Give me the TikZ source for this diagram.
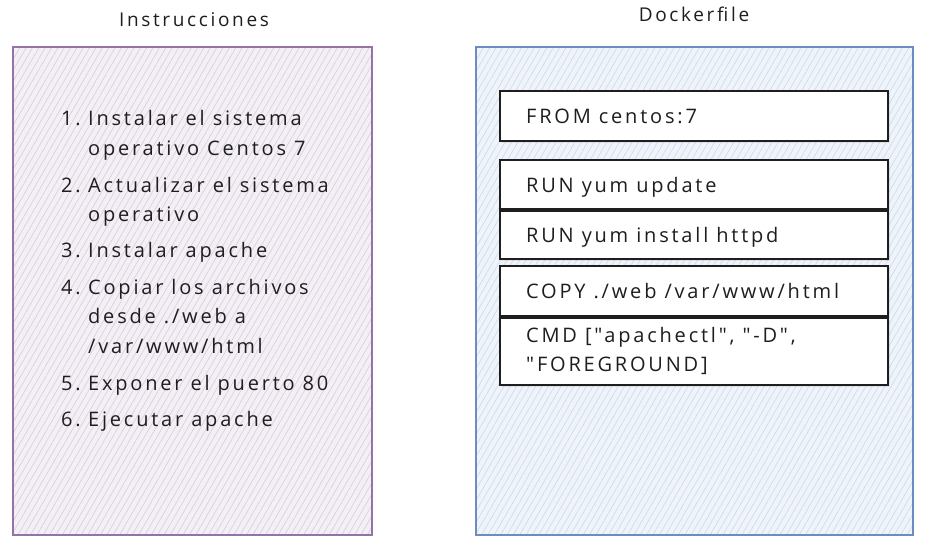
\documentclass[tikz,border=0pt]{standalone}
\usepackage{fontspec}
\newfontfamily\handfont[LetterSpace=14]{Open Sans}
\usetikzlibrary{patterns.meta,shadows}
\definecolor{purpleline}{HTML}{9673A6}
\definecolor{purplefill}{HTML}{F3EFF5}
\definecolor{purplehatch}{HTML}{D6CCDE}
\definecolor{blueline}{HTML}{6C8EBF}
\definecolor{bluefill}{HTML}{EFF3FA}
\definecolor{bluehatch}{HTML}{CCD9EB}
\definecolor{ink}{HTML}{1E1E1E}
\begin{document}
\begin{tikzpicture}[x=1pt,y=-1pt,
  txt/.style={font=\handfont\fontsize{20}{23}\selectfont, text=ink, inner sep=0pt, anchor=base west},
  num/.style={font=\handfont\fontsize{20}{23}\selectfont, text=ink, inner sep=0pt, anchor=base east},
  ttl/.style={font=\handfont\fontsize{19}{22}\selectfont, text=ink, inner sep=0pt, anchor=base},
  frame/.style={rectangle, inner sep=0pt, line width=1.3pt},
  instrframe/.style={frame, draw=purpleline, preaction={fill=purplefill},
    pattern={Lines[angle=60,distance=5.5pt,line width=0.6pt]}, pattern color=purplehatch},
  dockframe/.style={frame, draw=blueline, preaction={fill=bluefill},
    pattern={Lines[angle=60,distance=5.5pt,line width=0.6pt]}, pattern color=bluehatch},
  cmdbox/.style={rectangle, draw=ink, fill=white, line width=1.1pt, inner sep=0pt,
    minimum width=388pt, drop shadow={shadow xshift=2pt, shadow yshift=-2pt, opacity=0.15}},
]
\useasboundingbox (0,0) rectangle (929,555);

% titles
\node[ttl] (tinstr) at (194,26) {Instrucciones};
\node[ttl] (tdock) at (694,21) {Dockerfile};

% frames
\node[instrframe, minimum width=359pt, minimum height=488pt] (instr) at (192.5,291) {};
\node[dockframe, minimum width=437pt, minimum height=488pt] (dock) at (694.5,291) {};

% list
\node[num] (n1) at (81,125) {1.};
\node[txt] (l1a) at (88,125) {Instalar el sistema};
\node[txt] (l1b) at (88,155) {operativo Centos 7};
\node[num] (n2) at (81,192) {2.};
\node[txt] (l2a) at (88,192) {Actualizar el sistema};
\node[txt] (l2b) at (88,221) {operativo};
\node[num] (n3) at (81,257) {3.};
\node[txt] (l3a) at (88,257) {Instalar apache};
\node[num] (n4) at (81,294) {4.};
\node[txt] (l4a) at (88,294) {Copiar los archivos};
\node[txt] (l4b) at (88,323) {desde ./web a};
\node[txt] (l4c) at (88,353) {/var/www/html};
\node[num] (n5) at (81,390) {5.};
\node[txt] (l5a) at (88,390) {Exponer el puerto 80};
\node[num] (n6) at (81,426) {6.};
\node[txt] (l6a) at (88,426) {Ejecutar apache};

% dockerfile boxes
\node[cmdbox, minimum height=50pt] (b1) at (694,116) {};
\node[cmdbox, minimum height=49pt] (b2) at (694,184.5) {};
\node[cmdbox, minimum height=48pt] (b3) at (694,235) {};
\node[cmdbox, minimum height=50pt] (b4) at (694,291) {};
\node[cmdbox, minimum height=67pt] (b5) at (694,351.5) {};

\node[txt] (d1) at (526,123) {FROM centos:7};
\node[txt] (d2) at (526,192) {RUN yum update};
\node[txt] (d3) at (526,242) {RUN yum install httpd};
\node[txt] (d4) at (526,298) {COPY ./web /var/www/html};
\node[txt] (d5a) at (526,342) {CMD ["apachectl", "-D",};
\node[txt] (d5b) at (526,371) {"FOREGROUND]};
\end{tikzpicture}
\end{document}
